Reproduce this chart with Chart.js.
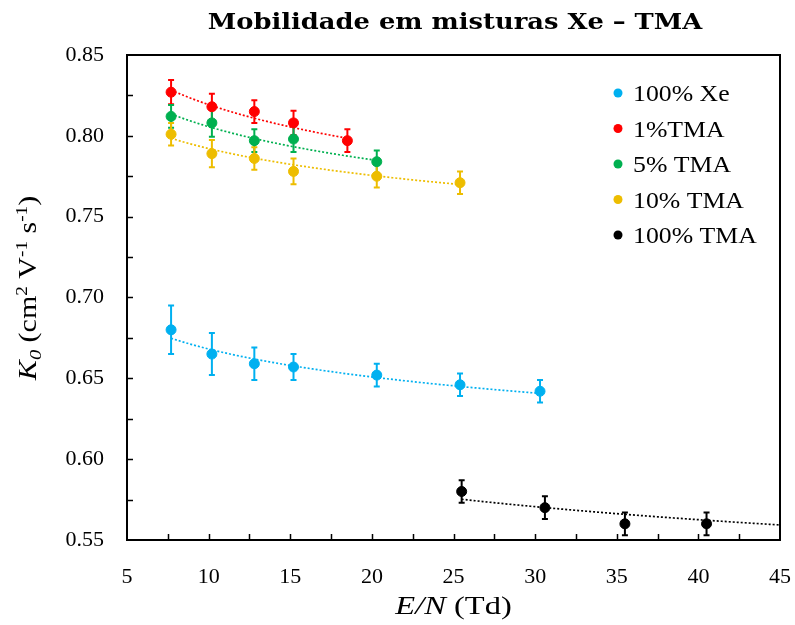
<!DOCTYPE html>
<html>
<head>
<meta charset="utf-8">
<script src="https://cdn.jsdelivr.net/npm/chart.js@4/dist/chart.umd.min.js"></script>
<style>
  body { margin: 0; background: #fff; }
  #wrap { width: 795px; height: 625px; }
</style>
</head>
<body>
<div id="wrap"><canvas id="mobChart" width="795" height="625"></canvas></div>
<script>
// series labels and colours
const labels = ['100% Xe', '1%TMA', '5% TMA', '10% TMA', '100% TMA'];
const colors = ['#00B0F0', '#FF0000', '#00B050', '#EDBD00', '#000000'];

// E/N (Td)
const xXe   = [7.7, 10.2, 12.8, 15.2, 20.3, 25.4, 30.3];
const x1    = [7.7, 10.2, 12.8, 15.2, 18.5];
const x5    = [7.7, 10.2, 12.8, 15.2, 20.3];
const x10   = [7.7, 10.2, 12.8, 15.2, 20.3, 25.4];
const xTMA  = [25.5, 30.6, 35.5, 40.5];

// K0 (cm2 V-1 s-1)
const kXe   = [0.680, 0.665, 0.659, 0.657, 0.652, 0.646, 0.642];
const k1    = [0.827, 0.818, 0.815, 0.808, 0.797];
const k5    = [0.812, 0.808, 0.797, 0.798, 0.784];
const k10   = [0.801, 0.789, 0.786, 0.778, 0.775, 0.771];
const kTMA  = [0.580, 0.570, 0.560, 0.560];

// error bars (+/-)
const eXe   = [0.015, 0.013, 0.010, 0.008, 0.007, 0.007, 0.007];
const e1    = [0.0075, 0.008, 0.007, 0.0075, 0.007];
const e5    = [0.007, 0.0085, 0.007, 0.008, 0.007];
const e10   = [0.007, 0.0085, 0.007, 0.008, 0.007, 0.007];
const eTMA  = [0.007, 0.007, 0.007, 0.007];

// power trendlines: [x start, K0 start, x end, K0 end]
const trendXe  = [7.7, 0.6748, 30.3, 0.6407];
const trend1   = [7.7, 0.8283, 18.5, 0.7985];
const trend5   = [7.7, 0.8135, 20.3, 0.7848];
const trend10  = [7.7, 0.7985, 25.4, 0.7699];
const trendTMA = [25.5, 0.5752, 45, 0.5593];

const xTicks = [5, 10, 15, 20, 25, 30, 35, 40, 45];
const yTicks = [0.55, 0.60, 0.65, 0.70, 0.75, 0.80, 0.85];

const xs = [xXe, x1, x5, x10, xTMA];
const ks = [kXe, k1, k5, k10, kTMA];
const es = [eXe, e1, e5, e10, eTMA];
const trends = [trendXe, trend1, trend5, trend10, trendTMA];

const SERIF = '"Liberation Serif", "DejaVu Serif", serif';

// draw text made of runs with different fonts, centred, optionally stretched
function drawRuns(ctx, runs, cx, cy, sx) {
    sx = sx || 1;
    let total = 0;
    runs.forEach(r => { ctx.font = r.font; total += ctx.measureText(r.text).width; });
    ctx.save();
    ctx.translate(cx - total * sx / 2, cy);
    ctx.scale(sx, 1);
    ctx.textAlign = 'left';
    ctx.textBaseline = 'alphabetic';
    let px = 0;
    runs.forEach(r => {
        ctx.font = r.font;
        ctx.fillText(r.text, px, r.dy || 0);
        px += ctx.measureText(r.text).width;
    });
    ctx.restore();
}

const decorPlugin = {
    id: 'decor',
    beforeDatasetsDraw(chart) {
        const { ctx, chartArea: ca, scales: { x, y } } = chart;
        ctx.save();
        ctx.beginPath();
        ctx.rect(ca.left, ca.top, ca.right - ca.left, ca.bottom - ca.top);
        ctx.clip();

        // dotted power trendlines
        trends.forEach((t, i) => {
            const b = Math.log(t[3] / t[1]) / Math.log(t[2] / t[0]);
            const a = t[1] / Math.pow(t[0], b);
            ctx.strokeStyle = colors[i];
            ctx.lineWidth = 1.7;
            ctx.setLineDash([2, 2]);
            ctx.beginPath();
            for (let k = 0; k <= 60; k++) {
                const v = t[0] + (t[2] - t[0]) * k / 60;
                const px = x.getPixelForValue(v);
                const py = y.getPixelForValue(a * Math.pow(v, b));
                if (k === 0) ctx.moveTo(px, py); else ctx.lineTo(px, py);
            }
            ctx.stroke();
        });

        // error bars
        ctx.setLineDash([]);
        ctx.lineWidth = 2;
        xs.forEach((xv, i) => {
            ctx.strokeStyle = colors[i];
            xv.forEach((v, j) => {
                const px = x.getPixelForValue(v);
                const top = y.getPixelForValue(ks[i][j] + es[i][j]);
                const bot = y.getPixelForValue(ks[i][j] - es[i][j]);
                ctx.beginPath();
                ctx.moveTo(px, top); ctx.lineTo(px, bot);
                ctx.moveTo(px - 3, top); ctx.lineTo(px + 3, top);
                ctx.moveTo(px - 3, bot); ctx.lineTo(px + 3, bot);
                ctx.stroke();
            });
        });
        ctx.restore();
    },
    afterDraw(chart) {
        const { ctx, chartArea: ca, scales: { x, y } } = chart;
        ctx.save();
        ctx.fillStyle = '#000';
        ctx.strokeStyle = '#000';

        // frame
        ctx.lineWidth = 2;
        ctx.strokeRect(ca.left, ca.top, ca.right - ca.left, ca.bottom - ca.top);

        // inward tick marks (major + minor)
        ctx.lineWidth = 1.5;
        ctx.beginPath();
        for (let v = 7.5; v < 45; v += 2.5) {
            const px = Math.round(x.getPixelForValue(v)) + 0.5;
            ctx.moveTo(px, ca.bottom); ctx.lineTo(px, ca.bottom - 6);
        }
        for (let k = 1; k < 12; k++) {
            const py = Math.round(y.getPixelForValue(0.55 + k * 0.025)) + 0.5;
            ctx.moveTo(ca.left, py); ctx.lineTo(ca.left + 6, py);
        }
        ctx.stroke();

        // title
        drawRuns(ctx, [
            { text: 'Mobilidade em misturas Xe \u2013 TMA', font: 'bold 23px "DejaVu Serif", serif' }
        ], 455, 29, 1.12);

        // x axis title
        drawRuns(ctx, [
            { text: 'E/N', font: 'italic 25px ' + SERIF },
            { text: ' (Td)', font: '25px ' + SERIF }
        ], (ca.left + ca.right) / 2, 614, 1.3);

        // y axis title
        ctx.save();
        ctx.translate(36, 288);
        ctx.rotate(-Math.PI / 2);
        drawRuns(ctx, [
            { text: 'K', font: 'italic 25px ' + SERIF },
            { text: '0', font: 'italic 17px ' + SERIF, dy: 5 },
            { text: ' (cm', font: '25px ' + SERIF },
            { text: '2', font: '16px ' + SERIF, dy: -9 },
            { text: ' V', font: '25px ' + SERIF },
            { text: '-1', font: '16px ' + SERIF, dy: -9 },
            { text: ' s', font: '25px ' + SERIF },
            { text: '-1', font: '16px ' + SERIF, dy: -9 },
            { text: ')', font: '25px ' + SERIF }
        ], 0, 0, 1.2);
        ctx.restore();

        // legend
        labels.forEach((lab, i) => {
            const ly = 93 + i * 35.5;
            ctx.fillStyle = colors[i];
            ctx.beginPath();
            ctx.arc(618, ly, 4.5, 0, Math.PI * 2);
            ctx.fill();
            ctx.fillStyle = '#000';
            ctx.save();
            ctx.translate(633, ly + 8);
            ctx.scale(1.12, 1);
            ctx.font = '23px ' + SERIF;
            ctx.textAlign = 'left';
            ctx.textBaseline = 'alphabetic';
            ctx.fillText(lab, 0, 0);
            ctx.restore();
        });
        ctx.restore();
    }
};

const datasets = xs.map((xv, i) => ({
    label: labels[i],
    data: xv.map((v, j) => ({ x: v, y: ks[i][j] })),
    backgroundColor: colors[i],
    borderColor: colors[i],
    pointRadius: 5,
    pointHoverRadius: 5,
    showLine: false
}));

const ctx = document.getElementById('mobChart').getContext('2d');
const mobChart = new Chart(ctx, {
    type: 'scatter',
    data: { datasets: datasets },
    options: {
        responsive: false,
        animation: false,
        devicePixelRatio: 1,
        layout: { padding: { top: 55, right: 0, left: 0, bottom: 0 } },
        plugins: {
            legend: { display: false },
            tooltip: { enabled: false },
            title: { display: false }
        },
        scales: {
            x: {
                type: 'linear',
                min: xTicks[0],
                max: xTicks[xTicks.length - 1],
                afterBuildTicks: s => { s.ticks = xTicks.map(v => ({ value: v })); },
                afterFit: s => { s.height = 85; s.paddingRight = 15; s.paddingLeft = 0; },
                grid: { display: false, drawTicks: false },
                border: { display: false },
                ticks: {
                    color: '#000',
                    padding: 24,
                    maxRotation: 0,
                    font: { family: SERIF, size: 22 }
                }
            },
            y: {
                type: 'linear',
                min: yTicks[0],
                max: yTicks[yTicks.length - 1],
                afterBuildTicks: s => { s.ticks = yTicks.map(v => ({ value: v })); },
                afterFit: s => { s.width = 127; s.paddingTop = 0; s.paddingBottom = 0; },
                grid: { display: false, drawTicks: false },
                border: { display: false },
                ticks: {
                    color: '#000',
                    padding: 23,
                    font: { family: SERIF, size: 22 },
                    callback: v => v.toFixed(2)
                }
            }
        }
    },
    plugins: [decorPlugin]
});
</script>
</body>
</html>
